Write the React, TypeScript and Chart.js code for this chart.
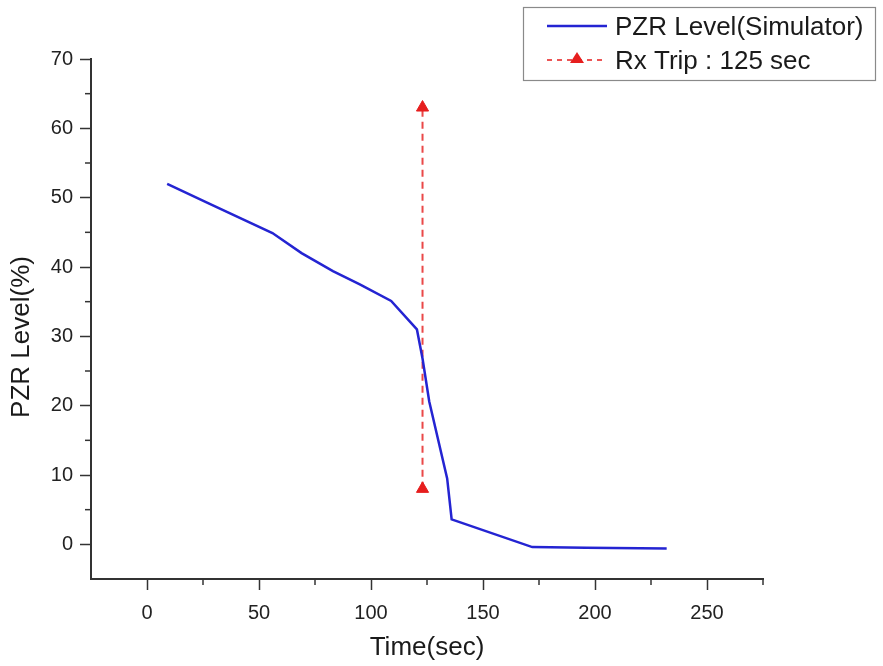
import React, { useEffect, useRef } from 'react';
import { Chart, registerables } from 'chart.js';

Chart.register(...registerables);

const timeSec = [9, 28, 56, 69, 83, 95, 109, 120.5, 123, 126, 134, 136, 172, 196, 232];
const pzrLevel = [52, 49.1, 44.9, 42, 39.4, 37.5, 35.1, 31, 26.8, 20.6, 9.5, 3.6, -0.4, -0.5, -0.6];

const tripTime = [123, 123];
const tripLevel = [8, 63];

const xMajorTicks = [0, 50, 100, 150, 200, 250];
const xMinorTicks = [25, 75, 125, 175, 225, 275];
const yMajorTicks = [0, 10, 20, 30, 40, 50, 60, 70];
const yMinorTicks = [5, 15, 25, 35, 45, 55, 65];

const seriesLabels = ['PZR Level(Simulator)', 'Rx Trip : 125 sec'];
const xTitle = 'Time(sec)';
const yTitle = 'PZR Level(%)';

const FONT = '"Liberation Sans", Arial, sans-serif';
const BLUE = '#2424d2';
const RED = '#e61e1e';
const AXIS = '#333333';

const minorTickPlugin = {
  id: 'minorTicks',
  afterDraw(chart: any) {
    const { ctx, scales, chartArea } = chart;
    ctx.save();
    ctx.strokeStyle = AXIS;
    ctx.lineWidth = 1.5;
    const len = 6;
    xMinorTicks.forEach((v) => {
      const px = scales.x.getPixelForValue(v);
      ctx.beginPath();
      ctx.moveTo(px, chartArea.bottom);
      ctx.lineTo(px, chartArea.bottom + len);
      ctx.stroke();
    });
    yMinorTicks.forEach((v) => {
      const py = scales.y.getPixelForValue(v);
      ctx.beginPath();
      ctx.moveTo(chartArea.left, py);
      ctx.lineTo(chartArea.left - len, py);
      ctx.stroke();
    });
    ctx.restore();
  },
};

const yTitlePlugin = {
  id: 'yTitle',
  afterDraw(chart: any) {
    const { ctx } = chart;
    ctx.save();
    ctx.translate(22, 337);
    ctx.rotate(-Math.PI / 2);
    ctx.font = `26px ${FONT}`;
    ctx.fillStyle = '#1a1a1a';
    ctx.textAlign = 'center';
    ctx.textBaseline = 'middle';
    ctx.fillText(yTitle, 0, 0);
    ctx.restore();
  },
};

const boxLegendPlugin = {
  id: 'boxLegend',
  afterDraw(chart: any) {
    const { ctx } = chart;
    const ds = chart.data.datasets;
    ctx.save();
    ctx.strokeStyle = '#8a8a8a';
    ctx.lineWidth = 1.2;
    ctx.strokeRect(523.5, 7.5, 352, 73);
    ctx.font = `26px ${FONT}`;
    ctx.textBaseline = 'middle';
    ctx.textAlign = 'left';
    ctx.fillStyle = '#1a1a1a';
    // row 1
    ctx.strokeStyle = BLUE;
    ctx.lineWidth = 2.4;
    ctx.beginPath();
    ctx.moveTo(547, 26);
    ctx.lineTo(607, 26);
    ctx.stroke();
    ctx.fillText(ds[0].label, 615, 28);
    // row 2
    ctx.strokeStyle = RED;
    ctx.lineWidth = 1.5;
    ctx.setLineDash([5, 5]);
    ctx.beginPath();
    ctx.moveTo(547, 60);
    ctx.lineTo(607, 60);
    ctx.stroke();
    ctx.setLineDash([]);
    ctx.fillStyle = RED;
    ctx.beginPath();
    ctx.moveTo(577, 52);
    ctx.lineTo(584, 63);
    ctx.lineTo(570, 63);
    ctx.closePath();
    ctx.fill();
    ctx.fillStyle = '#1a1a1a';
    ctx.fillText(ds[1].label, 615, 62);
    ctx.restore();
  },
};

export default function App() {
  const canvasRef = useRef<HTMLCanvasElement | null>(null);

  useEffect(() => {
    document.body.style.margin = '0';
    const canvas = canvasRef.current;
    if (!canvas) return;
    const chart = new Chart(canvas, {
      type: 'line',
      data: {
        datasets: [
          {
            label: seriesLabels[0],
            data: timeSec.map((t, i) => ({ x: t, y: pzrLevel[i] })),
            borderColor: BLUE,
            backgroundColor: BLUE,
            borderWidth: 2.5,
            pointRadius: 0,
            tension: 0,
            fill: false,
          },
          {
            label: seriesLabels[1],
            data: tripTime.map((t, i) => ({ x: t, y: tripLevel[i] })),
            borderColor: 'rgba(230,40,40,0.85)',
            backgroundColor: RED,
            borderWidth: 2,
            borderDash: [7, 5],
            pointStyle: 'triangle',
            pointRadius: 7,
            pointBackgroundColor: RED,
            pointBorderColor: RED,
            pointBorderWidth: 1,
            tension: 0,
            fill: false,
          },
        ],
      },
      options: {
        animation: false,
        responsive: false,
        maintainAspectRatio: false,
        layout: { padding: { top: 59, right: 120, left: 0, bottom: 0 } },
        plugins: {
          legend: { display: false },
          tooltip: { enabled: false },
        },
        scales: {
          x: {
            type: 'linear',
            min: -25,
            max: 275,
            afterBuildTicks: (scale: any) => {
              scale.ticks = xMajorTicks.map((v) => ({ value: v }));
            },
            afterFit: (scale: any) => {
              scale.height = 87;
            },
            grid: {
              display: true,
              drawOnChartArea: false,
              drawTicks: true,
              tickLength: 11,
              tickWidth: 1.5,
              tickColor: AXIS,
            },
            border: { display: true, color: AXIS, width: 2 },
            ticks: {
              color: '#222',
              font: { family: FONT, size: 20 },
              padding: 11,
              maxRotation: 0,
              autoSkip: false,
            },
            title: {
              display: true,
              text: xTitle,
              color: '#1a1a1a',
              font: { family: FONT, size: 26 },
              padding: { top: 0, bottom: 3 },
            },
          },
          y: {
            type: 'linear',
            min: -5,
            max: 70,
            afterBuildTicks: (scale: any) => {
              scale.ticks = yMajorTicks.map((v) => ({ value: v }));
            },
            afterFit: (scale: any) => {
              scale.width = 91;
            },
            grid: {
              display: true,
              drawOnChartArea: false,
              drawTicks: true,
              tickLength: 11,
              tickWidth: 1.5,
              tickColor: AXIS,
            },
            border: { display: true, color: AXIS, width: 2 },
            ticks: {
              color: '#222',
              font: { family: FONT, size: 20 },
              padding: 7,
              autoSkip: false,
            },
            title: { display: false },
          },
        },
      },
      plugins: [minorTickPlugin, yTitlePlugin, boxLegendPlugin],
    });
    return () => chart.destroy();
  }, []);

  return (
    <div style={{ width: 883, height: 666, background: '#ffffff' }}>
      <canvas ref={canvasRef} width={883} height={666} style={{ display: 'block' }} />
    </div>
  );
}
